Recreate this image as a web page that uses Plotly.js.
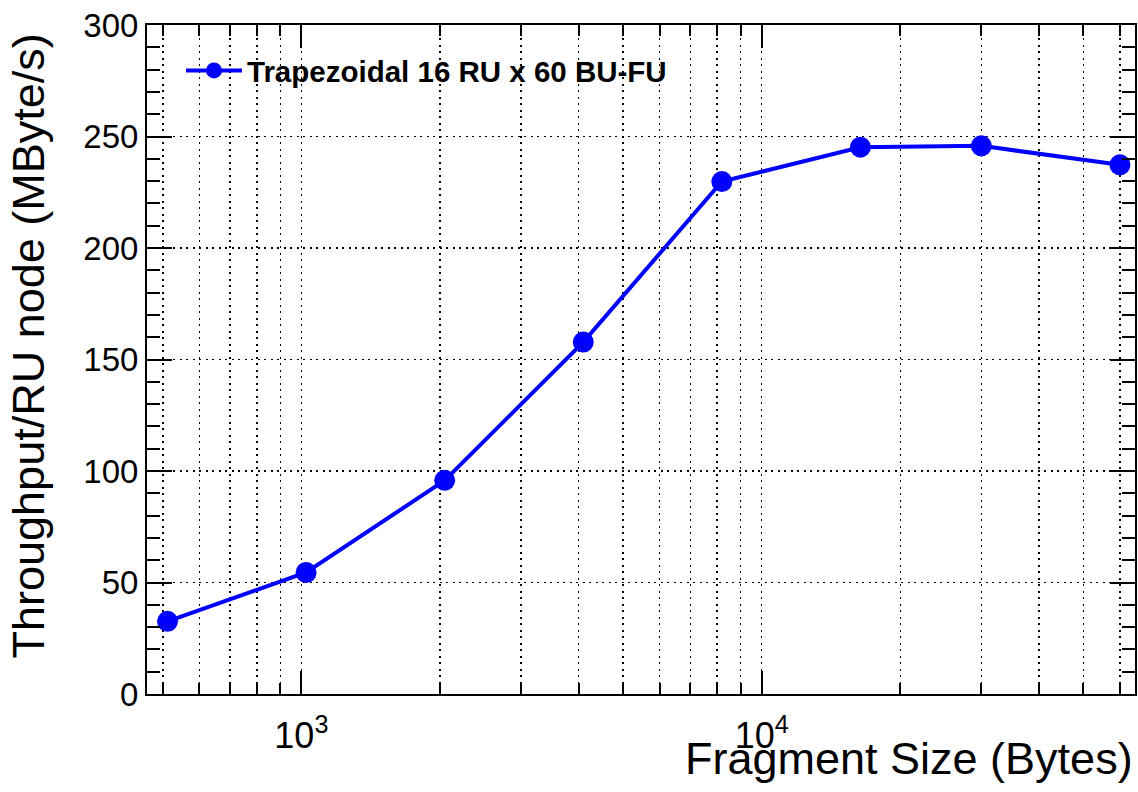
<!DOCTYPE html>
<html>
<head>
<meta charset="utf-8">
<script src="https://cdn.plot.ly/plotly-3.0.1.min.js"></script>
<style>html,body{margin:0;padding:0;background:#fff;}</style>
</head>
<body>
<div id="chart" style="width:1138px;height:792px;"></div>
<script>
// Data
const fragmentSize = [512, 1024, 2048, 4096, 8192, 16384, 30000, 60000];
const throughput = [32.6, 54.5, 95.8, 157.8, 229.8, 245.2, 245.8, 237.3];
const seriesName = "Trapezoidal 16 RU x 60 BU-FU";
const xMajorVals = [1000, 10000];
const xMajorText = ["10<sup>3</sup>", "10<sup>4</sup>"];
const xMinorVals = [500, 600, 700, 800, 900, 2000, 3000, 4000, 5000, 6000, 7000, 8000, 9000,
                    20000, 30000, 40000, 50000, 60000];
const yTickVals = [0, 50, 100, 150, 200, 250, 300];

const FONT = "Liberation Sans, Arial, Helvetica, sans-serif";
const dotted = "2px,4.5px";

const trace = {
  x: fragmentSize, y: throughput, name: seriesName,
  type: "scatter", mode: "lines+markers",
  line: {color: "#0000ff", width: 4},
  marker: {color: "#0000ff", size: 21, symbol: "circle"}
};

const layout = {
  width: 1138, height: 792,
  margin: {l: 147, r: 3, t: 25, b: 98},
  paper_bgcolor: "#fff", plot_bgcolor: "#fff",
  font: {family: FONT, color: "#000"},
  showlegend: true,
  legend: {
    x: 0.0344, y: 0.9705, xanchor: "left", yanchor: "top",
    bgcolor: "rgba(0,0,0,0)", borderwidth: 0,
    itemwidth: 56,
    font: {family: FONT, size: 29.5, weight: "bold", color: "#000"}
  },
  xaxis: {
    type: "log",
    range: [Math.log10(462), Math.log10(64700)],
    tickmode: "array", tickvals: xMajorVals, ticktext: xMajorText,
    ticks: "inside", ticklen: 23, tickwidth: 2, tickcolor: "#000",
    showline: true, linewidth: 2, linecolor: "#000", mirror: "allticks",
    showgrid: true, gridcolor: "#000", gridwidth: 1.5, griddash: dotted,
    zeroline: false,
    tickfont: {size: 36, family: FONT, color: "#000"},
    ticklabelstandoff: 9,
    minor: {
      tickmode: "array", tickvals: xMinorVals,
      ticks: "inside", ticklen: 11, tickwidth: 2, tickcolor: "#000",
      showgrid: true, gridcolor: "#000", gridwidth: 1.5, griddash: dotted
    }
  },
  yaxis: {
    range: [0, 300],
    tickmode: "array", tickvals: yTickVals,
    ticks: "inside", ticklen: 25, tickwidth: 2, tickcolor: "#000",
    showline: true, linewidth: 2, linecolor: "#000", mirror: "allticks",
    showgrid: true, gridcolor: "#000", gridwidth: 1.5, griddash: dotted,
    zeroline: false,
    tickfont: {size: 33, family: FONT, color: "#000"},
    minor: {
      dtick: 10, tick0: 0,
      ticks: "inside", ticklen: 13, tickwidth: 2, tickcolor: "#000",
      showgrid: false
    }
  },
  annotations: [
    {
      text: "Fragment Size (Bytes)", xref: "paper", yref: "paper",
      x: 1.0, y: -0.137, xanchor: "right", yanchor: "bottom",
      showarrow: false, font: {size: 45, family: FONT, color: "#000"}
    },
    {
      text: "Throughput/RU node (MByte/s)", xref: "paper", yref: "paper",
      x: -119/988, y: 1 - 7/669, xanchor: "center", yanchor: "top",
      textangle: -90, showarrow: false,
      font: {size: 45, family: FONT, color: "#000"}
    }
  ]
};

Plotly.newPlot("chart", [trace], layout, {staticPlot: true, displayModeBar: false});
</script>
</body>
</html>
